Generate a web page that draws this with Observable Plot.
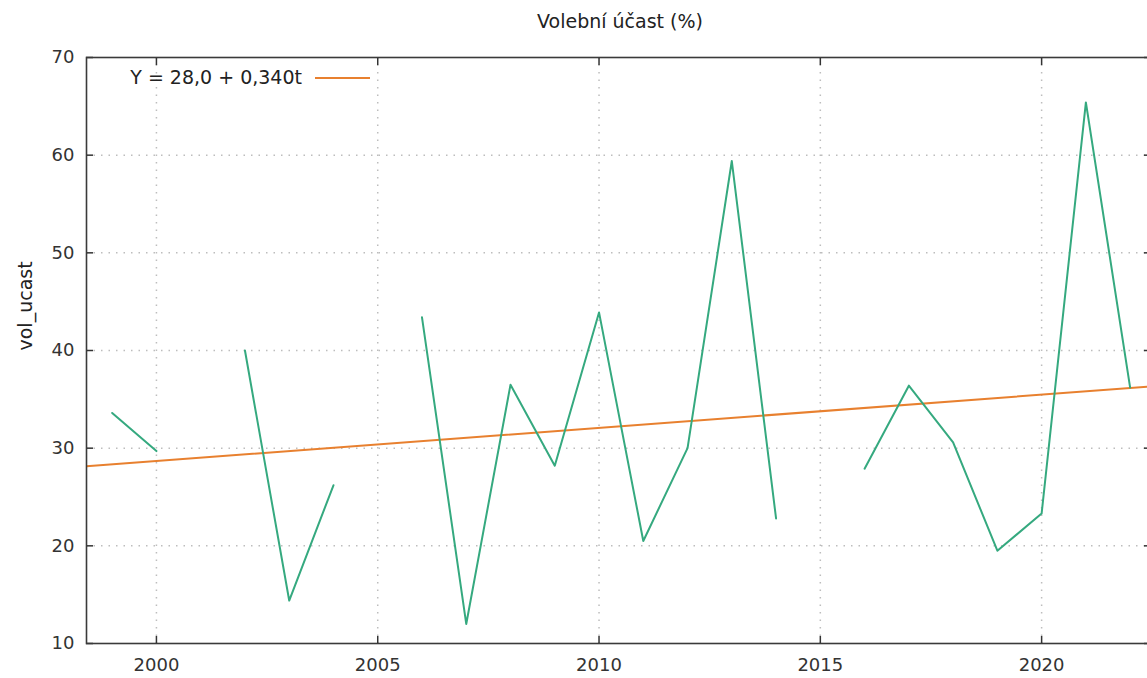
<!DOCTYPE html>
<html>
<head>
<meta charset="utf-8">
<script src="https://cdn.jsdelivr.net/npm/d3@7"></script>
<script src="https://cdn.jsdelivr.net/npm/@observablehq/plot@0.6"></script>
<style>
  html, body { margin: 0; padding: 0; background: #fff; overflow: hidden; width: 1147px; height: 678px; }
  #wrap { position: relative; width: 1147px; height: 678px; overflow: hidden; font-family: "DejaVu Sans", Verdana, sans-serif; color: #222; }
  #title { height: 45px; text-align: center; font-size: 19px; line-height: 19px; padding-top: 0; box-sizing: border-box; }
  #title span { position: absolute; left: 0; width: 1240px; top: 12px; text-align: center; }
  #legend { position: absolute; left: 0; top: 66px; height: 24px; width: 380px; font-size: 19px; }
  #legend .lt { position: absolute; right: 78px; top: 0; line-height: 22px; white-space: nowrap; }
  #legend svg { position: absolute; left: 315px; top: 0; }
  #chart { position: absolute; left: 0; top: 45px; width: 1160px; }
  #chart svg { max-width: none !important; width: 1160px; height: 633px; }
</style>
</head>
<body>
<div id="wrap">
  <div id="title"><span>Volební účast (%)</span></div>
  <div id="chart"></div>
  <div id="legend"><span class="lt">Y = 28,0 + 0,340t</span><svg width="60" height="24"><line id="legline" x1="0" x2="55" y1="12" y2="12" stroke-width="2"/></svg></div>
</div>
<script>
// ---- data ----
const years = [1999, 2000, 2001, 2002, 2003, 2004, 2005, 2006, 2007, 2008, 2009, 2010, 2011, 2012, 2013, 2014, 2015, 2016, 2017, 2018, 2019, 2020, 2021, 2022];
const volUcast = [33.6, 29.7, null, 40.0, 14.4, 26.2, null, 43.4, 12.0, 36.5, 28.2, 43.9, 20.5, 30.0, 59.4, 22.8, null, 27.9, 36.4, 30.6, 19.5, 23.3, 65.4, 36.2];
const trendIntercept = 28.0;
const trendSlope = 0.340;
const trendBaseYear = 1998; // t = year - 1998 (t = 1 at 1999)
const xTicks = [2000, 2005, 2010, 2015, 2020];
const yTicks = [10, 20, 30, 40, 50, 60, 70];
const xDomain = [1998.42, 2022.46];
const yDomain = [10, 70];

const green = "#35a97f";
const orange = "#e8802f";
document.getElementById("legline").setAttribute("stroke", orange);

const series = years.map((y, i) => ({year: y, value: volUcast[i]}));
const trend = xDomain.map(x => ({year: x, value: trendIntercept + trendSlope * (x - trendBaseYear)}));

const gridStyle = {stroke: "#bdbdbd", strokeOpacity: 1, strokeWidth: 1.5, strokeDasharray: "1.5,6"};

const chart = Plot.plot({
  width: 1160,
  height: 633,
  marginLeft: 86,
  marginRight: 10,
  marginTop: 12,
  marginBottom: 35,
  style: {fontFamily: "DejaVu Sans, Verdana, sans-serif", fontSize: "18px", color: "#333", background: "transparent", maxWidth: "none"},
  x: {domain: xDomain, ticks: xTicks},
  y: {domain: yDomain, ticks: yTicks},
  marks: [
    Plot.gridX(xTicks, gridStyle),
    Plot.gridY(yTicks.filter(d => d > 10 && d < 70), gridStyle),
    Plot.line(trend, {x: "year", y: "value", stroke: orange, strokeWidth: 2, clip: true}),
    Plot.line(series, {x: "year", y: "value", stroke: green, strokeWidth: 2, curve: "linear"}),
    Plot.axisX(xTicks, {anchor: "bottom", tickSize: 0, tickPadding: 15, tickFormat: d => String(d), label: null, fill: "#333"}),
    Plot.axisX(xTicks, {anchor: "bottom", tickSize: -7, tickFormat: () => "", label: null, stroke: "#333", strokeWidth: 1.5}),
    Plot.axisX(xTicks, {anchor: "top", tickSize: -7, tickFormat: () => "", label: null, stroke: "#333", strokeWidth: 1.5}),
    Plot.axisY(yTicks, {anchor: "left", tickSize: 0, tickPadding: 12, tickFormat: d => String(d), label: null, fill: "#333"}),
    Plot.axisY(yTicks, {anchor: "left", tickSize: -7, tickFormat: () => "", label: null, stroke: "#333", strokeWidth: 1.5}),
    Plot.axisY(yTicks, {anchor: "right", tickSize: -7, tickFormat: () => "", label: null, stroke: "#333", strokeWidth: 1.5}),
    Plot.frame({stroke: "#3a3a3a", strokeWidth: 1.6}),
    Plot.text(["vol_ucast"], {frameAnchor: "left", dx: -61, rotate: -90, fontSize: 19, fill: "#222"})
  ]
});
chart.style.maxWidth = "none";
document.getElementById("chart").appendChild(chart);
</script>
</body>
</html>
